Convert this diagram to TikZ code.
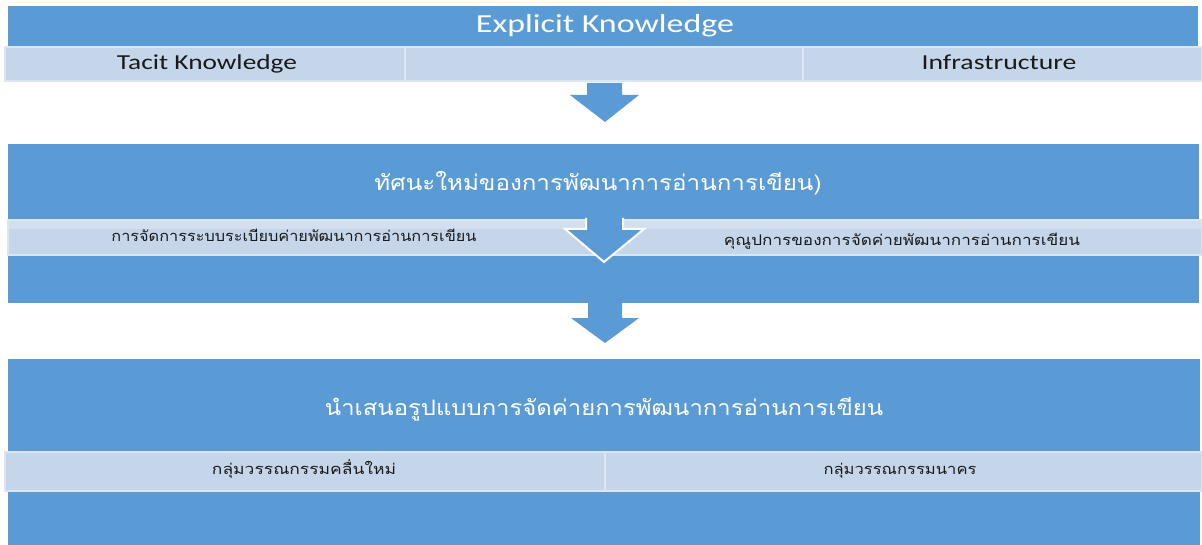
\documentclass[tikz,border=0pt]{standalone}
\usepackage{fontspec}
\setmainfont{Carlito}
\newfontfamily\thaifont[Script=Thai]{Loma}
\usepackage{graphicx}
\newdimen\pxu \pxu=0.75pt
\newcommand\fitw[2]{\resizebox{#1\pxu}{\height}{#2}}
\definecolor{sablue}{HTML}{5B9BD5}
\definecolor{salight}{HTML}{C5D5EA}
\definecolor{salighter}{HTML}{D3DEEF}
\definecolor{saline}{HTML}{DCE5F2}
\definecolor{satext}{HTML}{1A1A1A}
\tikzset{
  bluebox/.style={fill=sablue},
  lightbox/.style={fill=salight, draw=saline, line width=0.8pt},
  blockarrow/.style={fill=sablue},
  entitle/.style={inner sep=0pt, anchor=base, text=white, font=\fontsize{19.5}{20}\selectfont},
  enlabel/.style={inner sep=0pt, anchor=base, text=satext, font=\fontsize{16}{17}\selectfont},
  thtitle/.style={inner sep=0pt, anchor=base, text=white, font=\thaifont\fontsize{16}{18}\selectfont},
  thlabel/.style={inner sep=0pt, anchor=base, text=satext, font=\thaifont\fontsize{11}{13}\selectfont},
}
\begin{document}
\begin{tikzpicture}[x=0.75pt, y=-0.75pt]
\useasboundingbox (0,0) rectangle (1202,545);
% ---------- section 1
\fill[bluebox] (8,6) rectangle (1198,46);
\draw[lightbox] (5,47) rectangle (405,81);
\draw[lightbox] (405,47) rectangle (803,81);
\draw[lightbox] (803,47) rectangle (1202,81);
\node[entitle] (t1) at (605,33) {\fitw{258}{Explicit Knowledge}};
\node[enlabel] (l1a) at (207,70) {\fitw{180}{Tacit Knowledge}};
\node[enlabel] (l1c) at (999,70) {\fitw{155}{Infrastructure}};
% arrow 1
\fill[blockarrow] (587,83) -- (622,83) -- (622,95) -- (639,95) -- (605,122) -- (570,95) -- (587,95) -- cycle;
% ---------- section 2
\fill[bluebox] (8,144) rectangle (1199,303);
\fill[salighter] (8,220) rectangle (1202,229);
\fill[salight] (8,229) rectangle (1202,255);
\draw[saline, line width=0.8pt] (8,220) rectangle (1202,255);
\fill[blockarrow] (586,218) -- (623,218) -- (623,229) -- (644,229) -- (604,262) -- (565,229) -- (586,229) -- cycle;
\draw[white, line width=1.5pt, line join=miter] (586,218) -- (586,229) -- (565,229) -- (604,262) -- (644,229) -- (623,229) -- (623,218);
\node[thtitle] (t2) at (598,191) {\fitw{447}{ทัศนะใหม่ของการพัฒนาการอ่านการเขียน)}};
\node[thlabel] (l2a) at (294,242) {\fitw{365}{การจัดการระบบระเบียบค่ายพัฒนาการอ่านการเขียน}};
\node[thlabel] (l2b) at (902,245) {\fitw{356}{คุณูปการของการจัดค่ายพัฒนาการอ่านการเขียน}};
% arrow 2
\fill[blockarrow] (588,303) -- (622,303) -- (622,318) -- (639,318) -- (605,343) -- (571,318) -- (588,318) -- cycle;
% ---------- section 3
\fill[bluebox] (8,359) rectangle (1200,545);
\draw[lightbox] (5,452) rectangle (605,491);
\draw[lightbox] (605,452) rectangle (1202,491);
\node[thtitle] (t3) at (604,415) {\fitw{558}{นำเสนอรูปแบบการจัดค่ายการพัฒนาการอ่านการเขียน}};
\node[thlabel] (l3a) at (304,474) {\fitw{184}{กลุ่มวรรณกรรมคลื่นใหม่}};
\node[thlabel] (l3b) at (900,474) {\fitw{153}{กลุ่มวรรณกรรมนาคร}};
\end{tikzpicture}
\end{document}
